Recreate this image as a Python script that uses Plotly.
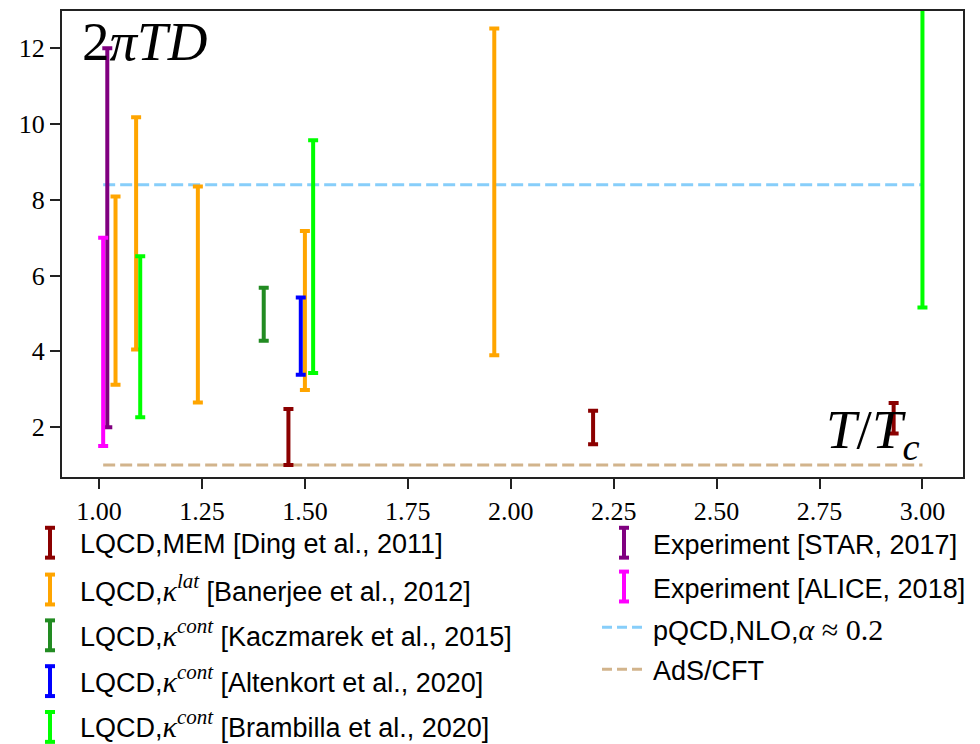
import plotly.graph_objects as go

# ---------------- data ----------------
ding_x = [1.46, 2.20, 2.93]
ding_lo = [1.00, 1.55, 1.83]
ding_hi = [2.48, 2.43, 2.64]

banerjee_x = [1.04, 1.09, 1.24, 1.50, 1.96]
banerjee_lo = [3.12, 4.05, 2.65, 2.98, 3.90]
banerjee_hi = [8.09, 10.18, 8.35, 7.18, 12.52]

kacz_x = [1.40]
kacz_lo = [4.28]
kacz_hi = [5.68]

alten_x = [1.49]
alten_lo = [3.38]
alten_hi = [5.42]

bramb_x = [1.10, 1.52, 3.00]
bramb_lo = [2.26, 3.43, 5.16]
bramb_hi = [6.51, 9.57, 14.0]

star_x = [1.02]
star_lo = [2.0]
star_hi = [12.0]

alice_x = [1.01]
alice_lo = [1.5]
alice_hi = [7.0]

pqcd_x = [1.01, 3.0]
pqcd_y = [8.4, 8.4]
ads_x = [1.01, 3.0]
ads_y = [1.0, 1.0]

x_ticks = [1.00, 1.25, 1.50, 1.75, 2.00, 2.25, 2.50, 2.75, 3.00]
y_ticks = [2, 4, 6, 8, 10, 12]

# ---------------- figure ----------------
W, H = 980, 744
ML, MR, MT, MB = 62, 17, 9, 267
PW, PH = W - ML - MR, H - MT - MB

def px(x):
    return (x - ML) / PW

def py(y):
    return (H - MB - y) / PH

fig = go.Figure()

fig.add_trace(go.Scatter(x=pqcd_x, y=pqcd_y, mode="lines",
                         line=dict(color="#87CEFA", width=3, dash="12px,5px"),
                         showlegend=False, hoverinfo="skip"))
fig.add_trace(go.Scatter(x=ads_x, y=ads_y, mode="lines",
                         line=dict(color="#D2B48C", width=3, dash="12px,5px"),
                         showlegend=False, hoverinfo="skip"))

KAP = "<span style=\"font-family:'Liberation Serif';font-size:30px\"><i>κ</i><sup><i>%s</i></sup></span>"

series = [
    ("LQCD,MEM [Ding et al., 2011]", "#8B0000", ding_x, ding_lo, ding_hi),
    ("LQCD," + KAP % "lat" + " [Banerjee et al., 2012]", "#FFA500", banerjee_x, banerjee_lo, banerjee_hi),
    ("LQCD," + KAP % "cont" + " [Kaczmarek et al., 2015]", "#228B22", kacz_x, kacz_lo, kacz_hi),
    ("LQCD," + KAP % "cont" + " [Altenkort et al., 2020]", "#0000FF", alten_x, alten_lo, alten_hi),
    ("LQCD," + KAP % "cont" + " [Brambilla et al., 2020]", "#00FF00", bramb_x, bramb_lo, bramb_hi),
    ("Experiment [STAR, 2017]", "#800080", star_x, star_lo, star_hi),
    ("Experiment [ALICE, 2018]", "#FF00FF", alice_x, alice_lo, alice_hi),
]

for name, color, xs, lo, hi in series:
    mid = [(a + b) / 2 for a, b in zip(lo, hi)]
    half = [(b - a) / 2 for a, b in zip(lo, hi)]
    fig.add_trace(go.Scatter(
        x=xs, y=mid, mode="markers",
        marker=dict(size=1, color=color, opacity=0),
        error_y=dict(type="data", symmetric=True, array=half,
                     color=color, thickness=4, width=5),
        showlegend=False, hoverinfo="skip"))

annotations = []
shapes = []

# ----- manual legend -----
left_rows = [543, 590, 636, 682, 728]
left_text_shift = [1, -2, -2, -2, -3]
right_rows = [543, 587]
legend_font = dict(family="Liberation Sans, Arial, sans-serif", size=27, color="black")

def add_errglyph(xc, yc, color):
    shapes.append(dict(type="line", xref="paper", yref="paper",
                       x0=px(xc), x1=px(xc), y0=py(yc - 15), y1=py(yc + 15),
                       line=dict(color=color, width=4)))
    for yy in (yc - 15, yc + 15):
        shapes.append(dict(type="line", xref="paper", yref="paper",
                           x0=px(xc - 5), x1=px(xc + 5), y0=py(yy), y1=py(yy),
                           line=dict(color=color, width=4)))

for i, (name, color, *_rest) in enumerate(series[:5]):
    yc = left_rows[i]
    add_errglyph(50, yc, color)
    annotations.append(dict(xref="paper", yref="paper", x=px(78), y=py(yc + left_text_shift[i]),
                            xanchor="left", yanchor="middle", showarrow=False,
                            text=name, font=legend_font))

for i, (name, color, *_rest) in enumerate(series[5:]):
    yc = right_rows[i]
    add_errglyph(624, yc, color)
    annotations.append(dict(xref="paper", yref="paper", x=px(651), y=py(yc + 2),
                            xanchor="left", yanchor="middle", showarrow=False,
                            text=name, font=legend_font))

line_entries = [
    ("pQCD,NLO,<span style=\"font-family:'Liberation Serif';font-size:30px\"><i>α</i> ≈ 0.2</span>", "#87CEFA", 628),
    ("AdS/CFT", "#D2B48C", 670),
]
for name, color, yc in line_entries:
    shapes.append(dict(type="line", xref="paper", yref="paper",
                       x0=px(602), x1=px(645), y0=py(yc), y1=py(yc),
                       line=dict(color=color, width=3, dash="10px,5px")))
    annotations.append(dict(xref="paper", yref="paper", x=px(651), y=py(yc + 2),
                            xanchor="left", yanchor="middle", showarrow=False,
                            text=name, font=legend_font))

# axis labels inside plot
annotations.append(dict(xref="paper", yref="paper", x=px(80), y=py(40),
                        xanchor="left", yanchor="middle", showarrow=False,
                        text="2<i>πTD</i>",
                        font=dict(family="Liberation Serif, serif", size=55, color="black")))
annotations.append(dict(xref="paper", yref="paper", x=px(922), y=py(433),
                        xanchor="right", yanchor="middle", showarrow=False,
                        text="<i>T</i>/<i>T</i><sub><i>c</i></sub>",
                        font=dict(family="Liberation Serif, serif", size=55, color="black")))

fig.update_layout(
    width=W, height=H,
    margin=dict(l=ML, r=MR, t=MT, b=MB),
    paper_bgcolor="white", plot_bgcolor="white",
    showlegend=False,
    annotations=annotations,
    shapes=shapes,
    font=dict(family="Liberation Serif, serif", size=26, color="black"),
)
fig.update_xaxes(range=[0.91, 3.0985], tickvals=x_ticks,
                 ticktext=[f"{v:.2f}" for v in x_ticks],
                 showgrid=False, zeroline=False,
                 showline=True, linewidth=2, linecolor="#222", mirror=True,
                 ticks="outside", ticklen=10, tickwidth=2, tickcolor="#222",
                 tickfont=dict(family="Liberation Serif, serif", size=26, color="black"))
fig.update_yaxes(range=[0.684, 12.984], tickvals=y_ticks,
                 ticktext=[str(v) for v in y_ticks],
                 showgrid=False, zeroline=False,
                 showline=True, linewidth=2, linecolor="#222", mirror=True,
                 ticks="outside", ticklen=10, tickwidth=2, tickcolor="#222",
                 tickfont=dict(family="Liberation Serif, serif", size=26, color="black"))

fig.write_html("out.html")
